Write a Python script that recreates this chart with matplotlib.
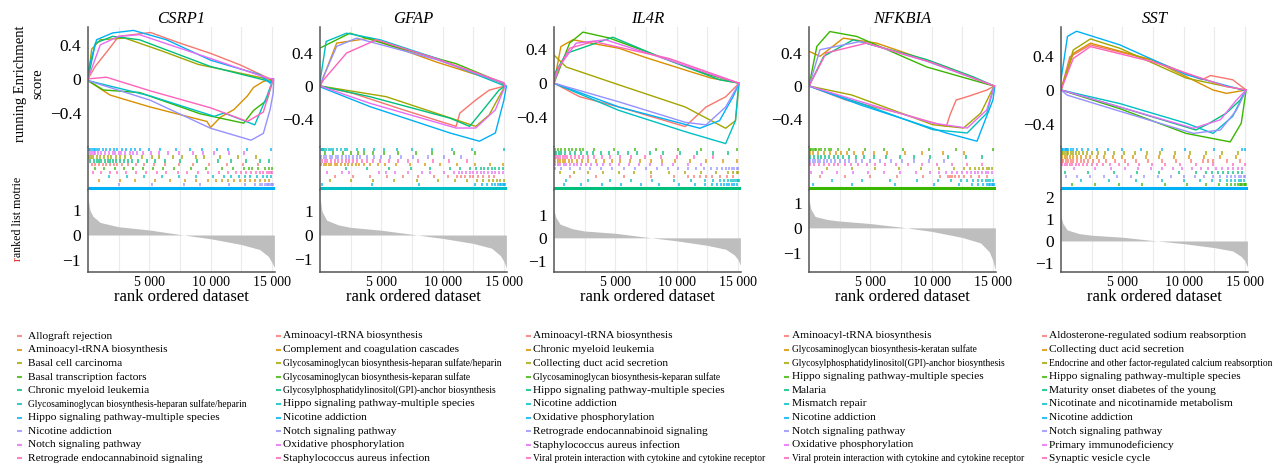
import matplotlib
matplotlib.use('Agg')
import matplotlib.pyplot as plt

plt.rcParams['font.family'] = ['Liberation Serif', 'DejaVu Serif']

W, H = 1284, 468
PALETTE = ['#F8766D', '#D89000', '#A3A500', '#39B600', '#00BF7D',
           '#00BFC4', '#00B0F6', '#9590FF', '#E76BF3', '#FF62BC']

genes = ['CSRP1', 'GFAP', 'IL4R', 'NFKBIA', 'SST']

# ---- CSRP1 ----
csrp1_sets = ['Allograft rejection', 'Aminoacyl-tRNA biosynthesis', 'Basal cell carcinoma',
              'Basal transcription factors', 'Chronic myeloid leukemia',
              'Glycosaminoglycan biosynthesis-heparan sulfate/heparin',
              'Hippo signaling pathway-multiple species', 'Nicotine addiction',
              'Notch signaling pathway', 'Retrograde endocannabinoid signaling']
# running ES, (rank in thousands, score)
csrp1_es = [
    [(0, 0), (0.6, 0.15), (1.65, 0.34), (2.5, 0.5), (5.1, 0.545), (7.5, 0.42), (10, 0.30), (12.4, 0.165), (14.85, 0.0), (15.1, 0)],
    [(0, -0.02), (1.8, -0.19), (5.07, -0.33), (9.7, -0.50), (10.0, -0.57), (10.8, -0.45), (11.9, -0.36), (13.0, -0.20), (13.5, -0.10), (14.3, -0.03), (15.1, 0)],
    [(0, 0), (0.3, 0.35), (1.0, 0.46), (3.0, 0.48), (6.0, 0.33), (9.0, 0.17), (12, 0.08), (14.6, 0.0), (15.1, 0)],
    [(0, -0.02), (1.25, -0.13), (4.2, -0.16), (9.15, -0.41), (12.7, -0.52), (13.5, -0.37), (14.6, -0.25), (15.0, -0.05), (15.1, 0)],
    [(0, 0), (0.6, 0.42), (2.0, 0.5), (4.2, 0.46), (10, 0.145), (14.85, -0.03), (15.1, 0)],
    [(0, -0.02), (5.07, -0.2), (10.3, -0.44), (11.1, -0.40), (13.6, -0.54), (14.6, -0.2), (15.1, 0)],
    [(0, 0.1), (0.7, 0.46), (2.0, 0.54), (3.7, 0.57), (6.4, 0.46), (10, 0.22), (14, 0.05), (14.85, -0.05), (15.1, 0)],
    [(0, -0.02), (5.07, -0.25), (10, -0.58), (13.3, -0.72), (14.3, -0.64), (14.85, -0.36), (15.1, -0.17), (15.15, 0)],
    [(0, 0), (1.0, 0.40), (2.5, 0.5), (4.2, 0.52), (10, 0.24), (14.6, 0.01), (15.1, 0)],
    [(0, 0.0), (1.5, 0.02), (5.07, -0.14), (10, -0.34), (13, -0.5), (14.3, -0.39), (15.1, 0)],
]
csrp1_hits = [
    [0.3, 0.6, 0.9, 1.2, 1.5, 1.8, 2.1, 2.4, 2.8, 3.3, 3.9, 4.6, 5.4, 6.3, 7.4, 8.6, 9.9, 11.3, 12.6, 13.9],
    [0.9, 2.6, 3.8, 5.5, 6.7, 7.9, 8.8, 9.8, 10.4, 10.9, 11.4, 11.9, 12.4, 12.8, 13.2, 13.6, 14.0, 14.4, 14.8],
    [0.1, 0.25, 0.4, 0.7, 1.0, 1.3, 1.6, 1.9, 2.3, 2.6, 3.0, 3.5, 4.4, 5.2, 5.8, 6.9, 7.7, 8.8, 9.5, 10.8, 12.2, 13.7],
    [0.6, 1.3, 2.2, 2.9, 3.7, 4.5, 5.3, 6.1, 7.0, 8.4, 9.6, 10.9, 11.8, 12.7, 13.1, 13.4, 13.9, 14.4, 14.8, 15.0],
    [0.2, 0.5, 0.7, 0.9, 1.1, 1.4, 1.6, 1.8, 2.0, 2.3, 2.6, 2.9, 3.3, 3.6, 4.1, 4.8, 5.5, 6.3, 7.5, 8.9, 10.6, 11.7, 12.9, 14.0, 14.8],
    [1.7, 3.2, 4.6, 6.0, 7.4, 8.8, 10.2, 11.1, 11.7, 12.3, 12.8, 13.2, 13.8, 14.3, 14.6, 14.9],
    [0.05, 0.15, 0.3, 0.45, 0.6, 0.75, 0.9, 1.2, 1.5, 1.8, 2.1, 2.4, 2.8, 3.1, 3.5, 3.8, 4.2, 5.0, 5.9, 7.2, 8.3, 9.3, 10.5, 11.4, 13.0, 14.9],
    [2.5, 5.2, 7.8, 9.1, 11.5, 12.8, 13.6, 14.0, 14.2, 14.4, 14.6, 14.7, 14.8, 14.9, 15.0, 15.1],
    [0.15, 0.3, 0.45, 0.6, 0.8, 1.1, 1.4, 1.7, 2.0, 2.2, 2.5, 2.7, 3.0, 3.4, 3.7, 4.0, 4.5, 5.1, 5.8, 6.5, 7.4, 8.6, 9.4, 10.3, 11.5, 12.7],
    [0.4, 1.1, 1.8, 2.4, 3.1, 3.9, 4.7, 5.6, 6.4, 7.3, 8.1, 9.0, 9.8, 10.7, 11.4, 12.1, 12.5, 12.9, 13.3, 13.7, 14.0, 14.3, 14.6, 14.8, 14.9, 15.0],
]
csrp1_rug_order = [6, 8, 2, 4, 0, 3, 9, 5, 1, 7]
csrp1_metric = [(0, 1.48), (0.15, 1.0), (0.4, 0.75), (1.0, 0.5), (2.5, 0.33), (5.0, 0.2), (7.5, 0.02),
                (10.0, -0.15), (12.5, -0.38), (14.0, -0.58), (14.7, -0.85), (15.0, -1.1), (15.2, -1.3)]

# ---- GFAP ----
gfap_sets = ['Aminoacyl-tRNA biosynthesis', 'Complement and coagulation cascades',
             'Glycosaminoglycan biosynthesis-heparan sulfate/heparin',
             'Glycosaminoglycan biosynthesis-keparan sulfate',
             'Glycosylphosphatidylinositol(GPI)-anchor biosynthesis',
             'Hippo signaling pathway-multiple species', 'Nicotine addiction',
             'Notch signaling pathway', 'Oxidative phosphorylation', 'Staphylococcus aureus infection']
gfap_es = [
    [(0, 0), (2.7, -0.09), (6.8, -0.29), (11.1, -0.49), (11.4, -0.33), (12.7, -0.17), (13.8, -0.05), (15.1, 0)],
    [(0, 0), (1.36, 0.52), (4.07, 0.58), (9.5, 0.29), (14.6, 0.05), (15.1, 0)],
    [(0, 0), (5.4, -0.13), (12.7, -0.49), (13.8, -0.35), (14.6, -0.13), (15.1, 0)],
    [(0, 0.46), (2.44, 0.64), (5.96, 0.48), (11.1, 0.27), (15.0, 0.03), (15.1, 0)],
    [(0, 0), (4.07, -0.13), (10.6, -0.39), (12.2, -0.49), (13.3, -0.29), (14.6, -0.05), (15.1, 0)],
    [(0, 0.05), (0.5, 0.54), (2.17, 0.64), (4.9, 0.56), (9.5, 0.335), (14.9, 0.01), (15.1, 0)],
    [(0, -0.01), (4.07, -0.25), (10.6, -0.57), (13.0, -0.67), (14.3, -0.57), (15.0, -0.17), (15.2, 0)],
    [(0, 0.0), (0.27, 0.11), (1.36, 0.48), (2.98, 0.58), (9.5, 0.32), (15.0, 0.03), (15.1, 0)],
    [(0, 0), (4.07, -0.21), (11.1, -0.51), (12.7, -0.51), (14.3, -0.29), (15.1, 0)],
    [(0, 0), (0.27, 0.07), (2.17, 0.40), (4.6, 0.56), (9.5, 0.33), (15.0, 0.04), (15.1, 0)],
]
gfap_hits = [
    [1.2, 2.7, 4.1, 5.5, 6.8, 8.0, 9.3, 10.4, 11.2, 11.5, 11.8, 12.2, 12.5, 12.9, 13.3, 13.8, 14.2],
    [0.1, 0.3, 0.5, 0.7, 0.9, 1.2, 1.4, 1.7, 2.0, 2.3, 2.6, 2.9, 3.2, 3.6, 4.1, 4.7, 5.3, 6.2, 7.3, 8.6, 9.8, 11.2, 12.6, 13.9, 14.9],
    [0.8, 2.5, 4.3, 6.0, 7.9, 9.6, 11.0, 12.0, 12.8, 13.3, 13.8, 14.1, 14.4, 14.7, 15.0],
    [0.4, 1.1, 1.9, 2.5, 3.1, 3.6, 4.3, 5.2, 6.4, 7.8, 9.1, 10.9, 12.6],
    [2.1, 3.8, 5.6, 7.4, 9.0, 10.6, 11.4, 12.2, 12.7, 13.1, 13.4, 13.7, 14.0, 14.3, 14.6, 14.9],
    [0.05, 0.15, 0.25, 0.35, 0.5, 0.7, 0.9, 1.1, 1.4, 1.7, 2.0, 2.2, 3.0, 3.6, 4.4, 5.2, 6.3, 7.5, 9.1, 10.8, 12.4, 15.0],
    [0.2, 4.2, 8.1, 12.6, 13.2, 13.6, 14.0, 14.3, 14.5, 14.7, 14.8, 14.9, 15.0, 15.1],
    [0.1, 0.3, 0.5, 0.8, 1.0, 1.3, 1.5, 1.8, 2.1, 2.4, 2.7, 3.0, 3.3, 3.8, 4.4, 5.0, 5.7, 6.6, 7.6, 8.8, 10.1, 11.5],
    [0.6, 1.8, 2.4, 4.8, 5.4, 6.1, 7.2, 8.3, 9.0, 10.1, 10.9, 11.3, 11.6, 11.9, 12.2, 12.5, 12.8, 13.1, 13.4, 13.7, 14.0, 14.3, 14.6, 14.9],
    [0.2, 0.4, 0.6, 0.9, 1.2, 1.5, 1.8, 2.1, 2.4, 2.7, 3.0, 3.4, 3.8, 4.3, 4.9, 5.6, 6.4, 7.2, 8.0, 9.2, 10.5, 12.0],
]
gfap_rug_order = [5, 3, 7, 9, 1, 4, 8, 0, 2, 6]
gfap_metric = [(0, 1.58), (0.15, 1.0), (0.54, 0.62), (1.5, 0.42), (2.5, 0.32), (5.0, 0.2), (7.5, 0.03),
               (10.0, -0.14), (12.5, -0.35), (14.0, -0.55), (14.7, -0.85), (15.0, -1.1), (15.2, -1.38)]

# ---- IL4R ----
il4r_sets = ['Aminoacyl-tRNA biosynthesis', 'Chronic myeloid leukemia', 'Collecting duct acid secretion',
             'Glycosaminoglycan biosynthesis-keparan sulfate',
             'Hippo signaling pathway-multiple species', 'Nicotine addiction',
             'Oxidative phosphorylation', 'Retrograde endocannabinoid signaling',
             'Staphylococcus aureus infection',
             'Viral protein interaction with cytokine and cytokine receptor']
il4r_es = [
    [(0, 0), (2.1, -0.16), (5.3, -0.28), (10.7, -0.51), (12.4, -0.28), (14.0, -0.16), (15.1, 0)],
    [(0, 0), (0.56, 0.43), (1.54, 0.51), (5.3, 0.41), (7.5, 0.3), (10.8, 0.15), (12.8, 0.06), (15.1, 0)],
    [(0, 0.33), (1.0, 0.19), (5.3, -0.02), (10.7, -0.28), (14.0, -0.53), (14.8, -0.44), (15.1, 0)],
    [(0, 0), (1.27, 0.47), (2.36, 0.60), (4.52, 0.53), (9.4, 0.27), (12.4, 0.11), (15.1, 0)],
    [(0, 0.1), (1.0, 0.35), (4.8, 0.54), (8.6, 0.31), (13.5, 0.04), (15.1, 0)],
    [(0, 0), (5.3, -0.32), (10.7, -0.57), (14.0, -0.71), (14.8, -0.44), (15.05, -0.02), (15.1, 0)],
    [(0, 0), (5.3, -0.28), (11.9, -0.53), (13.5, -0.44), (14.6, -0.16), (15.1, 0)],
    [(0, 0), (5.3, -0.22), (10.7, -0.46), (12.4, -0.49), (14.0, -0.28), (15.1, 0)],
    [(0, 0), (0.4, 0.19), (1.8, 0.47), (4.2, 0.51), (9.4, 0.27), (13.5, 0.07), (15.1, 0)],
    [(0, 0), (0.13, 0.11), (1.27, 0.41), (3.2, 0.49), (9.4, 0.29), (15.1, 0)],
]
il4r_hits = [
    [1.3, 3.4, 5.7, 7.9, 9.8, 10.9, 11.4, 11.9, 12.4, 12.9, 13.5, 14.1, 14.6],
    [0.1, 0.3, 0.5, 0.7, 0.9, 1.2, 1.5, 1.9, 2.3, 2.8, 3.4, 4.1, 4.7, 5.4, 6.2, 7.0, 7.9, 8.8, 9.9, 11.1, 12.4, 13.8, 14.9],
    [0.5, 1.6, 2.8, 4.0, 5.3, 6.5, 7.9, 9.4, 10.7, 12.0, 13.2, 14.2, 14.6, 14.9, 15.0],
    [0.1, 0.3, 0.6, 0.9, 1.2, 1.5, 1.8, 2.1, 2.4, 3.3, 4.9, 6.6, 8.3, 10.1, 12.0, 14.9],
    [0.05, 0.2, 0.4, 0.6, 0.9, 1.3, 1.7, 2.2, 2.7, 3.2, 3.8, 4.5, 5.2, 6.0, 6.8, 7.8, 8.9, 10.3, 11.7, 13.0, 14.2],
    [1.0, 2.8, 4.6, 6.3, 8.0, 9.8, 11.2, 12.3, 13.0, 13.5, 13.9, 14.2, 14.4, 14.6, 14.8, 14.9, 15.0, 15.1],
    [0.8, 2.2, 3.9, 5.5, 7.1, 8.6, 10.2, 11.5, 12.3, 12.9, 13.3, 13.6, 13.9, 14.1, 14.3, 14.5, 14.7, 14.9],
    [0.1, 0.6, 1.3, 2.1, 2.9, 3.8, 4.7, 5.7, 6.6, 7.5, 8.4, 9.3, 10.1, 10.9, 11.6, 12.2, 12.8, 13.3, 13.7, 14.0, 14.3, 14.5, 14.7, 14.9, 15.0],
    [0.1, 0.3, 0.5, 0.8, 1.0, 1.3, 1.6, 1.9, 2.2, 2.6, 3.0, 3.5, 4.0, 4.6, 5.3, 6.1, 6.9, 7.8, 8.8, 9.7, 10.9, 12.0],
    [0.05, 0.2, 0.35, 0.5, 0.7, 0.9, 1.1, 1.4, 1.7, 2.0, 2.4, 2.8, 3.3, 3.9, 4.6, 5.4, 6.3, 7.4, 8.7, 10.0, 11.4, 13.0],
]
il4r_rug_order = [3, 4, 9, 1, 8, 7, 2, 0, 5, 6]
il4r_metric = [(0, 1.2), (0.15, 0.9), (0.5, 0.6), (1.5, 0.4), (2.5, 0.3), (5.0, 0.2), (7.5, 0.03),
               (10.0, -0.13), (12.5, -0.33), (14.0, -0.5), (14.7, -0.75), (15.0, -0.95), (15.2, -1.2)]

# ---- NFKBIA ----
nfkbia_sets = ['Aminoacyl-tRNA biosynthesis', 'Glycosaminoglycan biosynthesis-keratan sulfate',
               'Glycosylphosphatidylinositol(GPI)-anchor biosynthesis',
               'Hippo signaling pathway-multiple species', 'Malaria', 'Mismatch repair',
               'Nicotine addiction', 'Notch signaling pathway', 'Oxidative phosphorylation',
               'Viral protein interaction with cytokine and cytokine receptor']
nfkbia_es = [
    [(0, 0), (3.0, -0.17), (7.4, -0.33), (11.2, -0.49), (11.5, -0.35), (12.0, -0.17), (12.9, -0.13), (14.5, -0.05), (15.1, 0)],
    [(0, 0.42), (0.9, 0.36), (2.8, 0.58), (5.5, 0.52), (11.2, 0.23), (15.1, 0)],
    [(0, 0), (3.5, -0.11), (10.1, -0.47), (12.6, -0.51), (14.0, -0.33), (14.8, -0.09), (15.1, 0)],
    [(0, 0), (0.64, 0.48), (1.7, 0.66), (3.9, 0.60), (9.6, 0.23), (14.8, 0.01), (15.1, 0)],
    [(0, 0), (1.2, 0.36), (3.6, 0.56), (9.6, 0.32), (13.4, 0.11), (15.1, 0)],
    [(0, 0), (4.2, -0.21), (10.1, -0.53), (12.9, -0.57), (14.5, -0.33), (15.1, 0)],
    [(0, 0), (4.2, -0.23), (11.2, -0.57), (13.7, -0.67), (15.0, -0.17), (15.15, 0)],
    [(0, 0), (0.9, 0.44), (4.2, 0.54), (9.6, 0.30), (15.1, 0)],
    [(0, 0), (4.2, -0.19), (10.1, -0.45), (12.9, -0.51), (14.5, -0.29), (15.1, 0)],
    [(0, 0), (1.4, 0.40), (4.7, 0.52), (10.1, 0.28), (15.1, 0)],
]
nfkbia_hits = [
    [0.9, 2.9, 5.0, 7.2, 9.3, 10.7, 11.3, 11.5, 11.7, 11.9, 12.2, 12.6, 13.2, 13.9, 14.5],
    [0.05, 0.3, 0.7, 1.2, 1.7, 2.2, 2.6, 3.1, 3.7, 4.4, 5.3, 6.4, 7.8, 9.2, 10.9, 12.6],
    [1.5, 3.5, 5.4, 7.3, 9.1, 10.6, 11.8, 12.6, 13.1, 13.5, 13.9, 14.2, 14.5, 14.7, 14.9],
    [0.1, 0.2, 0.3, 0.45, 0.6, 0.8, 1.0, 1.3, 1.6, 1.8, 2.4, 3.3, 4.6, 6.1, 7.7, 9.8, 12.0, 15.0],
    [0.1, 0.4, 0.7, 1.0, 1.3, 1.6, 2.0, 2.4, 2.8, 3.3, 3.8, 4.5, 5.3, 6.3, 7.4, 8.6, 9.9, 11.3, 12.8, 14.1],
    [1.9, 4.3, 6.6, 8.8, 10.5, 11.6, 12.4, 12.9, 13.4, 13.8, 14.1, 14.4, 14.6, 14.8, 15.0],
    [0.3, 3.5, 7.0, 10.2, 12.2, 13.3, 13.8, 14.2, 14.5, 14.7, 14.8, 14.9, 15.0, 15.1],
    [0.1, 0.3, 0.5, 0.7, 0.9, 1.2, 1.5, 1.8, 2.1, 2.5, 2.9, 3.3, 3.8, 4.3, 5.0, 5.8, 6.7, 7.6, 8.6, 9.8, 11.0],
    [0.2, 1.1, 2.3, 3.6, 4.8, 6.1, 7.4, 8.7, 9.9, 10.6, 11.2, 11.7, 12.1, 12.5, 12.9, 13.2, 13.5, 13.8, 14.1, 14.4, 14.6, 14.9],
    [0.1, 0.4, 0.8, 1.2, 1.6, 2.0, 2.4, 2.9, 3.4, 4.0, 4.7, 5.4, 6.2, 7.1, 8.1, 9.2, 10.4, 11.7, 12.9, 14.1],
]
nfkbia_rug_order = [3, 1, 4, 7, 9, 2, 8, 0, 5, 6]
nfkbia_metric = [(0, 1.1), (0.15, 0.75), (0.5, 0.45), (1.5, 0.33), (2.5, 0.27), (5.0, 0.17), (7.5, 0.03),
                 (10.0, -0.14), (12.5, -0.38), (14.0, -0.6), (14.7, -0.95), (15.0, -1.3), (15.2, -1.67)]

# ---- SST ----
sst_sets = ['Aldosterone-regulated sodium reabsorption', 'Collecting duct acid secretion',
            'Endocrine and other factor-regulated calcium reabsorption',
            'Hippo signaling pathway-multiple species', 'Maturity onset diabetes of the young',
            'Nicotinate and nicotinamide metabolism', 'Nicotine addiction',
            'Notch signaling pathway', 'Primary immunodeficiency', 'Synaptic vesicle cycle']
sst_es = [
    [(0, 0), (0.72, 0.39), (2.4, 0.53), (7.5, 0.35), (11.5, 0.12), (12.2, 0.17), (14.0, 0.12), (15.1, 0)],
    [(0, 0), (1.0, 0.43), (2.4, 0.55), (7.5, 0.35), (12.4, 0.0), (13.5, -0.04), (15.1, 0)],
    [(0, 0), (1.0, 0.47), (2.4, 0.60), (4.8, 0.49), (10.2, 0.14), (13.5, 0.04), (15.1, 0)],
    [(0, 0), (4.8, -0.22), (10.2, -0.51), (13.8, -0.61), (14.7, -0.39), (15.1, 0)],
    [(0, 0), (4.8, -0.20), (11.0, -0.47), (12.1, -0.39), (13.5, -0.27), (14.6, -0.12), (15.1, 0)],
    [(0, 0), (4.8, -0.16), (10.2, -0.39), (12.4, -0.51), (14.0, -0.31), (14.8, -0.08), (15.1, 0)],
    [(0, 0.12), (0.53, 0.63), (1.27, 0.69), (4.8, 0.53), (10.2, 0.18), (14.8, 0.0), (15.1, 0)],
    [(0, 0), (0.5, -0.06), (4.8, -0.25), (10.8, -0.51), (13.0, -0.47), (14.3, -0.24), (15.1, 0)],
    [(0, 0), (4.8, -0.20), (10.8, -0.45), (13.0, -0.35), (14.3, -0.12), (15.1, 0)],
    [(0, 0), (1.0, 0.37), (2.4, 0.51), (7.5, 0.33), (13.5, 0.04), (15.1, 0)],
]
sst_hits = [
    [0.05, 0.2, 0.4, 0.6, 0.8, 1.0, 1.3, 1.6, 1.9, 2.2, 2.6, 3.1, 3.7, 4.4, 5.2, 6.1, 7.1, 8.2, 9.4, 10.6, 11.6, 12.0, 12.4, 13.5, 14.6],
    [0.1, 0.3, 0.5, 0.7, 1.0, 1.3, 1.6, 2.0, 2.4, 2.9, 3.5, 4.2, 5.0, 5.9, 6.9, 8.0, 9.2, 10.4, 11.7, 13.0, 14.3],
    [0.05, 0.15, 0.3, 0.45, 0.6, 0.8, 1.0, 1.2, 1.5, 1.8, 2.1, 2.5, 3.0, 3.6, 4.3, 5.1, 6.0, 7.0, 8.1, 9.3, 10.5, 11.8, 13.1, 14.4],
    [0.9, 2.8, 4.7, 6.6, 8.5, 10.3, 11.8, 12.9, 13.5, 13.9, 14.2, 14.4, 14.6, 14.7, 14.8, 14.9, 15.0, 15.1],
    [0.3, 2.2, 4.3, 6.2, 8.0, 9.6, 11.0, 11.8, 12.3, 12.8, 13.2, 13.6, 14.0, 14.4, 14.8],
    [1.6, 3.9, 6.1, 8.2, 10.0, 11.3, 12.3, 13.0, 13.5, 13.9, 14.2, 14.5, 14.7, 14.9],
    [0.05, 0.1, 0.2, 0.3, 0.4, 0.5, 0.6, 0.8, 1.0, 1.3, 1.7, 2.2, 2.9, 3.8, 5.0, 6.5, 8.2, 10.1, 12.5, 14.8, 15.0],
    [0.4, 1.3, 2.4, 3.5, 4.6, 5.7, 6.8, 7.9, 9.0, 10.0, 10.9, 11.7, 12.4, 13.0, 13.5, 13.9, 14.2, 14.5, 14.7, 14.9, 15.0],
    [1.1, 2.8, 4.1, 5.2, 6.3, 7.3, 8.2, 9.1, 9.9, 10.7, 11.4, 12.0, 12.6, 13.1, 13.6, 14.0, 14.4, 14.8],
    [0.1, 0.3, 0.5, 0.7, 0.9, 1.2, 1.5, 1.8, 2.1, 2.5, 2.9, 3.4, 4.0, 4.7, 5.5, 6.4, 7.4, 8.5, 9.7, 11.0, 12.4, 14.0, 15.0],
]
sst_rug_order = [6, 2, 1, 0, 9, 8, 4, 7, 5, 3]
sst_metric = [(0, 1.1), (0.15, 0.8), (0.5, 0.5), (1.5, 0.33), (2.5, 0.26), (5.0, 0.17), (7.5, 0.02),
              (10.0, -0.12), (12.5, -0.3), (14.0, -0.45), (14.7, -0.7), (15.0, -0.9), (15.2, -1.17)]

panel_sets = [csrp1_sets, gfap_sets, il4r_sets, nfkbia_sets, sst_sets]
panel_es = [csrp1_es, gfap_es, il4r_es, nfkbia_es, sst_es]
panel_hits = [csrp1_hits, gfap_hits, il4r_hits, nfkbia_hits, sst_hits]
panel_rug = [csrp1_rug_order, gfap_rug_order, il4r_rug_order, nfkbia_rug_order, sst_rug_order]
panel_metric = [csrp1_metric, gfap_metric, il4r_metric, nfkbia_metric, sst_metric]

# layout (pixels)
PANEL_LEFT = [88, 320, 554, 809, 1061]
PANEL_W = 187
ES_TOP, RUG_TOP, RANK_TOP, RANK_BOT = 27, 147, 190, 272
ES_YLIM = [(-0.80, 0.61), (-0.74, 0.715), (-0.75, 0.66), (-0.74, 0.715), (-0.67, 0.74)]
RANK_YLIM = [(-1.48, 1.8), (-1.54, 1.875), (-1.5, 2.1), (-1.75, 1.5), (-1.4, 2.3)]
RANK_TICKS = [[-1, 0, 1]] * 4 + [[-1, 0, 1, 2]]
RUG_LINE = [6, 5, 4, 3, 6]
LEGEND_X = [(17, 28), (276, 283), (526, 533), (784, 792), (1042, 1049)]
AXIS_COLOR = '#555555'
GRID_COLOR = '#EBEBEB'


def px_axes(fig, left, top, width, height):
    return fig.add_axes([left / W, 1 - (top + height) / H, width / W, height / H])


def fmt_num(v):
    return ('\u2212' if v < 0 else '') + ('%g' % abs(v))


fig = plt.figure(figsize=(W / 100, H / 100), dpi=100)
ov = fig.add_axes([0, 0, 1, 1])
ov.set_xlim(0, W)
ov.set_ylim(H, 0)
ov.axis('off')

XMAX = 15250
grid_x = [2500, 5000, 7500, 10000, 12500, 15000]

for p, gene in enumerate(genes):
    left = PANEL_LEFT[p]
    ax_es = px_axes(fig, left, ES_TOP, PANEL_W, RUG_TOP - ES_TOP)
    ax_rug = px_axes(fig, left, RUG_TOP, PANEL_W, RANK_TOP - RUG_TOP)
    ax_rk = px_axes(fig, left, RANK_TOP, PANEL_W, RANK_BOT - RANK_TOP)

    for ax in (ax_es, ax_rug, ax_rk):
        ax.set_xlim(0, XMAX)
        for g in grid_x:
            ax.axvline(g, color=GRID_COLOR, lw=0.8, zorder=0)
        for s in ('top', 'right', 'bottom'):
            ax.spines[s].set_visible(False)
        ax.spines['left'].set_color(AXIS_COLOR)
        ax.spines['left'].set_linewidth(1.1)
        ax.tick_params(length=0, labelsize=12.5, pad=5)
        ax.set_xticks([])

    # running enrichment score
    for i, pts in enumerate(panel_es[p]):
        ax_es.plot([r * 1000 for r, _ in pts], [v for _, v in pts],
                   color=PALETTE[i], lw=1.0, zorder=2)
    ax_es.set_ylim(*ES_YLIM[p])
    ax_es.set_yticks([-0.4, 0, 0.4])
    ax_es.set_yticklabels([fmt_num(v) for v in [-0.4, 0, 0.4]])

    # hit rug
    n = len(panel_rug[p])
    for row, idx in enumerate(panel_rug[p]):
        y0 = n - row + 0.05
        ax_rug.vlines([h * 1000 for h in panel_hits[p][idx]], y0, y0 + 0.85,
                      color=PALETTE[idx], lw=1.1, alpha=0.9)
    ax_rug.axhline(0.45, color=PALETTE[RUG_LINE[p]], lw=2.2)
    ax_rug.set_ylim(0, n + 1.05)
    ax_rug.set_yticks([])

    # ranked list metric
    mx = [r * 1000 for r, _ in panel_metric[p]]
    my = [v for _, v in panel_metric[p]]
    ax_rk.fill_between(mx, my, 0, color='#BEBEBE', lw=0, zorder=1)
    ax_rk.set_ylim(*RANK_YLIM[p])
    ax_rk.set_yticks(RANK_TICKS[p])
    ax_rk.set_yticklabels([fmt_num(v) for v in RANK_TICKS[p]])
    ax_rk.spines['bottom'].set_visible(True)
    ax_rk.spines['bottom'].set_color(AXIS_COLOR)
    ax_rk.spines['bottom'].set_linewidth(1.1)
    ax_rk.set_xticks([5000, 10000, 15000])
    ax_rk.set_xticklabels(['5 000', '10 000', '15 000'])
    ax_rk.tick_params(axis='x', labelsize=10, pad=3)

    cx = left + PANEL_W / 2
    ov.text(cx, 19, gene, fontsize=12, style='italic', ha='center', va='center')
    ov.text(cx, 297, 'rank ordered dataset', fontsize=12, ha='center', va='center')

    # legend
    dash_x, text_x = LEGEND_X[p]
    for i, name in enumerate(panel_sets[p]):
        y = 336 + i * 13.6
        ov.plot([dash_x, dash_x + 5], [y, y], color=PALETTE[i], lw=1.5,
                alpha=0.8, solid_capstyle='butt')
        fs = 6.85 if len(name) > 43 else 8.2
        ov.text(text_x, y, name, fontsize=fs, ha='left', va='center')

# y axis labels
ov.text(29, 84, 'running Enrichment\nscore', fontsize=10.5, rotation=90,
        ha='center', va='center', linespacing=1.45, multialignment='center')
r_txt = ov.text(18, 261, 'r', fontsize=8.6, rotation=90, color='#E8191B',
                rotation_mode='anchor', ha='left', va='center')
renderer = fig.canvas.get_renderer()
r_len = r_txt.get_window_extent(renderer).height
ov.text(18, 261 - r_len, 'anked list motrie', fontsize=8.6, rotation=90,
        rotation_mode='anchor', ha='left', va='center')

fig.savefig('out.png', dpi=100)
